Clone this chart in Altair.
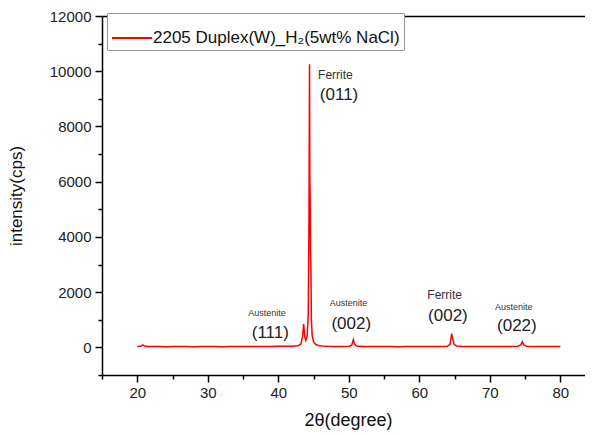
import altair as alt
import pandas as pd

# ---- data ----
two_theta = [20.0, 20.5, 20.8, 21.0, 21.5, 22, 23, 24, 25, 26, 27, 28, 29, 30, 31, 32, 33, 34, 35,
             36, 37, 38, 39, 40, 41, 42, 42.8, 43.2, 43.45, 43.6, 43.75, 43.9, 44.1, 44.25, 44.35,
             44.43, 44.48, 44.52, 44.57, 44.63, 44.7, 44.8, 45.0, 45.3, 45.7, 46.2, 47, 48, 49, 50,
             50.4, 50.65, 50.8, 51.1, 52, 53, 54, 55, 56, 57, 58, 59, 60, 61, 62, 63, 64, 64.35,
             64.6, 64.75, 64.95, 65.3, 66, 67, 68, 69, 70, 71, 72, 73, 74, 74.4, 74.6, 74.8, 75.2,
             76, 77, 78, 79, 80]
intensity = [30, 40, 90, 50, 35, 30, 35, 25, 30, 28, 32, 25, 30, 28, 30, 26, 32, 28, 30,
             30, 32, 35, 35, 38, 40, 45, 60, 120, 400, 850, 380, 250, 420, 1200, 4500,
             10250, 6000, 5450, 3500, 2800, 1000, 450, 200, 110, 70, 50, 40, 35, 35, 40,
             70, 280, 120, 50, 35, 30, 30, 28, 30, 25, 30, 28, 30, 28, 30, 32, 45, 110,
             500, 300, 100, 50, 35, 30, 28, 30, 30, 28, 30, 32, 40, 90, 200, 90, 40,
             30, 28, 30, 30, 30]
series_name = "2205 Duplex(W)_H\u2082(5wt% NaCl)"

x_major = [20, 30, 40, 50, 60, 70, 80]
x_minor = [15, 25, 35, 45, 55, 65, 75]
y_major = [0, 2000, 4000, 6000, 8000, 10000, 12000]
y_minor = [-1000, 1000, 3000, 5000, 7000, 9000, 11000]

# peak annotations
phase_name = ["Ferrite", "Austenite", "Austenite", "Ferrite", "Austenite"]
phase_x = [48.1, 38.4, 49.97, 63.6, 73.4]
phase_y = [9870, 1256, 1594, 1881, 1461]
hkl_name = ["(011)", "(111)", "(002)", "(002)", "(022)"]
hkl_x = [48.62, 38.87, 50.35, 64.06, 73.84]
hkl_y = [9153, 538, 861, 1138, 779]

df = pd.DataFrame({"two_theta": two_theta, "intensity": intensity, "series": series_name})
phase_df = pd.DataFrame({"label": phase_name, "x": phase_x, "y": phase_y})
hkl_df = pd.DataFrame({"label": hkl_name, "x": hkl_x, "y": hkl_y})

FONT = "Liberation Sans"
xs = alt.Scale(domain=[15, 83.5], nice=False, zero=False)
ys = alt.Scale(domain=[-1000, 12000], nice=False, zero=False)

common_axis = dict(grid=False, domainColor="black", tickColor="black", domainWidth=1.5,
                   tickWidth=1.5, labelFont=FONT, labelColor="#222", titleFont=FONT,
                   titleColor="#111", titleFontWeight="normal")

line = alt.Chart(df).mark_line(strokeWidth=1.5).encode(
    x=alt.X("two_theta:Q", scale=xs,
            axis=alt.Axis(orient="bottom", values=x_major, tickSize=7, labelFontSize=15,
                          labelPadding=3, title="2\u03b8(degree)", titleFontSize=18,
                          titlePadding=11, titleX=246, **common_axis)),
    y=alt.Y("intensity:Q", scale=ys,
            axis=alt.Axis(orient="left", values=y_major, format="d", tickSize=7,
                          labelFontSize=15, labelPadding=4, title="intensity(cps)",
                          titleFontSize=17, titlePadding=24, **common_axis)),
    color=alt.Color("series:N", scale=alt.Scale(range=["#ff0000"]),
                    legend=alt.Legend(title=None, orient="none", legendX=5, legendY=-3,
                                      symbolType="stroke", symbolSize=1600,
                                      symbolStrokeWidth=2, labelFontSize=17, labelFont=FONT,
                                      labelColor="#111", labelLimit=0, labelOffset=0,
                                      strokeColor="#999", fillColor="white", padding=4)),
)

hkl = alt.Chart(hkl_df).mark_text(fontSize=17, font=FONT, color="#222", baseline="middle").encode(
    x=alt.X("x:Q", scale=xs,
            axis=alt.Axis(orient="bottom", values=x_minor, tickSize=4, labels=False,
                          domain=False, title=None, **common_axis)),
    y=alt.Y("y:Q", scale=ys,
            axis=alt.Axis(orient="left", values=y_minor, tickSize=4, labels=False,
                          domain=False, title=None, **common_axis)),
    text="label:N",
)

ferrite = alt.Chart(phase_df).transform_filter(alt.datum.label == "Ferrite").mark_text(
    fontSize=12, font=FONT, color="#333", baseline="middle").encode(
    x=alt.X("x:Q", scale=xs,
            axis=alt.Axis(orient="top", ticks=False, labels=False, domain=True, title=None,
                          **common_axis)),
    y=alt.Y("y:Q", scale=ys, axis=None),
    text="label:N",
)

austenite = alt.Chart(phase_df).transform_filter(alt.datum.label == "Austenite").mark_text(
    fontSize=9, font=FONT, color="#333", baseline="middle").encode(
    x=alt.X("x:Q", scale=xs, axis=None),
    y=alt.Y("y:Q", scale=ys, axis=None),
    text="label:N",
)

chart = alt.layer(line, hkl, ferrite, austenite).resolve_axis(
    x="independent", y="independent"
).properties(
    width=483, height=359,
    autosize=alt.AutoSizeParams(type="none"),
    padding={"left": 94, "top": 8, "right": 0, "bottom": 58},
    background="white",
).configure_view(stroke=None)

chart.save("out.html", embed_options={"renderer": "svg", "actions": False})
